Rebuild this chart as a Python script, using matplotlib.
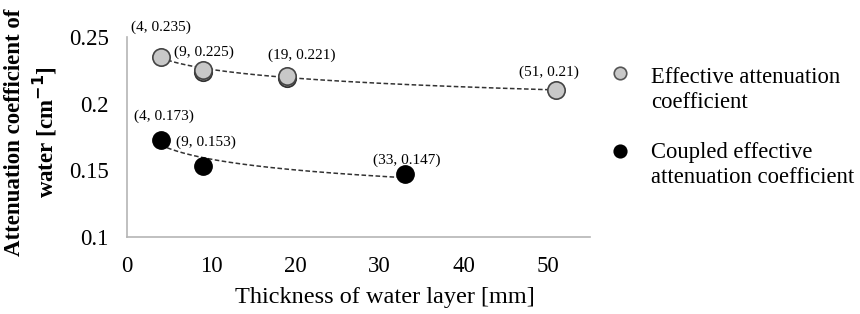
import numpy as np
import matplotlib
matplotlib.use("Agg")
import matplotlib.pyplot as plt

# Data
eff_x = [4, 9, 19, 51]
eff_y = [0.235, 0.225, 0.221, 0.21]
eff_rep_x = [9, 19]
eff_rep_y = [0.2235, 0.2195]
cpl_x = [4, 9, 33]
cpl_y = [0.173, 0.153, 0.147]
eff_label = "Effective attenuation\ncoefficient"
cpl_label = "Coupled effective\nattenuation coefficient"
xticks = [0, 10, 20, 30, 40, 50]
yticks = [0.1, 0.15, 0.2, 0.25]
ytick_labels = ["0.1", "0.15", "0.2", "0.25"]

plt.rcParams['font.family'] = ['Liberation Serif', 'DejaVu Serif']

W, H = 860, 314
fig = plt.figure(figsize=(8.6, 3.14), dpi=100)
ax = fig.add_axes([127 / W, 1 - 237 / H, (590 - 127) / W, 200 / H])

def logfit(xs, ys):
    a, b = np.polyfit(np.log(xs), ys, 1)
    xx = np.linspace(min(xs), max(xs), 200)
    return xx, a * np.log(xx) + b

dash = (0, (3, 1.6))
xx, yy = logfit(eff_x, eff_y)
ax.plot(xx, yy, ls=dash, color='#333333', lw=1.1, zorder=2)
xx, yy = logfit(cpl_x, cpl_y)
ax.plot(xx, yy, ls=dash, color='#333333', lw=1.1, zorder=2)

ax.plot(eff_rep_x, eff_rep_y, 'o', ms=12.5, mfc='#c8c8c8', mec='#333333', mew=1.3, zorder=3)
ax.plot(eff_x, eff_y, 'o', ms=12.5, mfc='#c8c8c8', mec='#444444', mew=1.2, zorder=4)
ax.plot(cpl_x, cpl_y, 'o', ms=12.5, mfc='black', mec='black', zorder=4)

eff_off = [(0, 30), (1, 18), (15, 20), (-7, 18)]
for x, y, off in zip(eff_x, eff_y, eff_off):
    ax.annotate(f"({x}, {y:g})", (x, y), xytext=off, textcoords='offset pixels',
                ha='center', va='center', fontsize=11)
cpl_off = [(3, 23), (3, 24), (2, 14)]
for x, y, off in zip(cpl_x, cpl_y, cpl_off):
    ax.annotate(f"({x}, {y:g})", (x, y), xytext=off, textcoords='offset pixels',
                ha='center', va='center', fontsize=11)

ax.set_xlim(0, 55)
ax.set_ylim(0.1, 0.25)
ax.set_xticks(xticks)
ax.set_yticks(yticks)
ax.set_yticklabels(ytick_labels)
ax.tick_params(length=0, labelsize=16.5)
ax.tick_params(axis='y', pad=13)
ax.tick_params(axis='x', pad=14)
for s in ['top', 'right']:
    ax.spines[s].set_visible(False)
for s in ['left', 'bottom']:
    ax.spines[s].set_color('#b5b5b5')
    ax.spines[s].set_linewidth(1.2)

ax.set_xlabel("Thickness of water layer [mm]", fontsize=17.5)
ax.xaxis.set_label_coords((385 - 127) / 463, -(298 - 237) / 200)
ax.xaxis.label.set_va('center')
fig.text(0.037, 0.58, "Attenuation coefficient of\nwater [cm$^{\\mathbf{-1}}$]", rotation=90,
         ha='center', va='center', fontsize=16.5, fontweight='bold', linespacing=1.25)

# Legend (marker aligned with first text line, as in the reference)
leg_items = [(eff_label, '#c8c8c8', '#555555', 73, 83), (cpl_label, 'black', 'black', 151, 158)]
for label, fc, ec, ypx, base in leg_items:
    fig.add_artist(plt.Line2D([620 / W], [1 - ypx / H], marker='o', ms=9, mfc=fc, mec=ec,
                              mew=1.2, ls='none', transform=fig.transFigure))
    for i, line in enumerate(label.split("\n")):
        fig.text(651 / W, 1 - (base + 25 * i) / H, line, ha='left', va='baseline',
                 fontsize=16.3)

fig.savefig("out.png", dpi=100)
